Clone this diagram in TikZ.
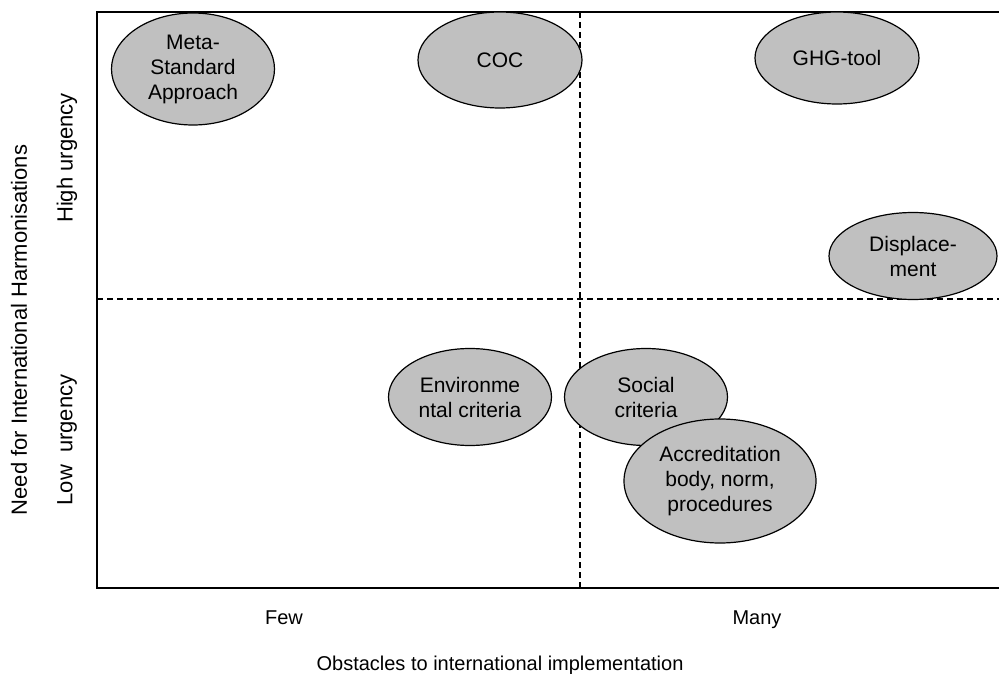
\documentclass[tikz,border=0pt]{standalone}
\usepackage{fontspec}
\setmainfont{Liberation Sans}
\usetikzlibrary{shapes.geometric}
\definecolor{blobgray}{HTML}{C0C0C0}
\tikzset{
  blob/.style={ellipse, draw=black, fill=blobgray, line width=1.2pt, inner sep=0pt,
    align=center, font=\fontsize{21}{25}\selectfont},
  lbl/.style={font=\fontsize{20}{24}\selectfont, inner sep=0pt, anchor=base},
  ylbl/.style={font=\fontsize{22}{26}\selectfont, inner sep=0pt, rotate=90},
  divider/.style={line width=1.2pt, dash pattern=on 6pt off 4pt},
  frame/.style={line width=1.5pt}
}
\begin{document}
\begin{tikzpicture}[x=1pt,y=-1pt]
\useasboundingbox (0,0) rectangle (999,674);
\coordinate (tl) at (97,12);
\coordinate (tr) at (1010,12);
\coordinate (bl) at (97,588);
\coordinate (br) at (1010,588);
\draw[frame] (tr) -- (tl) -- (bl) -- (br);
\coordinate (vtop) at (580,12);
\coordinate (vbot) at (580,588);
\coordinate (hl) at (97,299);
\coordinate (hr) at (1000,299);
\draw[divider] (vtop) -- (vbot);
\draw[divider] (hl) -- (hr);

\node[blob, minimum width=163pt, minimum height=112pt] (meta) at (193,69) {Meta-\\Standard\\Approach};
\node[blob, minimum width=164pt, minimum height=96pt] (coc) at (500,60) {COC};
\node[blob, minimum width=164pt, minimum height=92pt] (ghg) at (837,58) {GHG-tool};
\node[blob, minimum width=168pt, minimum height=87pt] (disp) at (913,256) {Displace-\\ment};
\node[blob, minimum width=163pt, minimum height=97pt] (env) at (470,397) {Environme\\ntal criteria};
\node[blob, minimum width=163pt, minimum height=97pt] (soc) at (646,397) {Social\\criteria};
\node[blob, minimum width=192pt, minimum height=124pt] (acc) at (720,481) {Accreditation\\body, norm,\\procedures};

\node[lbl] (few) at (284,624) {Few};
\node[lbl] (many) at (757,624) {Many};
\node[lbl] (xlab) at (500,670) {Obstacles to international implementation};
\node[ylbl] (ylab) at (19,330) {Need for International Harmonisations};
\node[ylbl] (high) at (67,158) {High urgency};
\node[ylbl] (low) at (67,440) {Low\ \ urgency};
\end{tikzpicture}
\end{document}
